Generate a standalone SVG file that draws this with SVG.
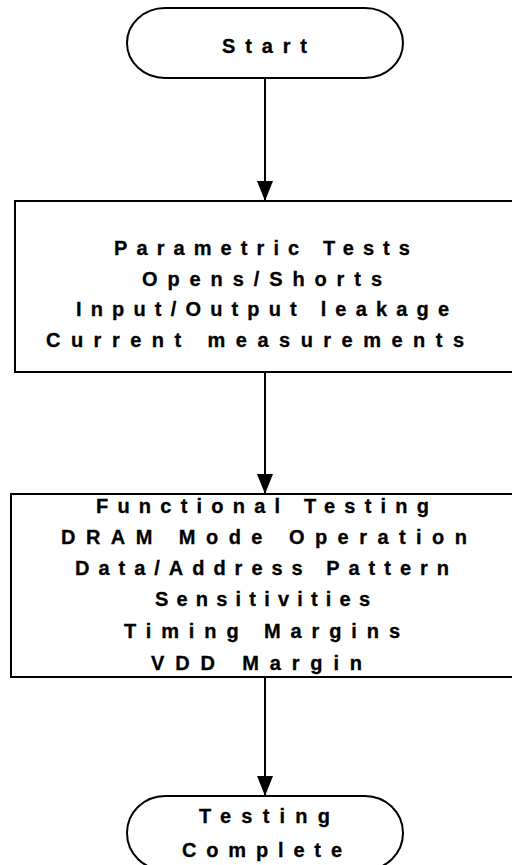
<svg xmlns="http://www.w3.org/2000/svg" width="512" height="865" viewBox="0 0 512 865">
<defs>
<style>
.shape{fill:#fff;stroke:#000;stroke-width:2}
.t{font-family:"Liberation Sans",Arial,sans-serif;font-weight:bold;font-size:20px;fill:#000;stroke:#000;stroke-width:0.3px}
.c{stroke:#000;stroke-width:2;fill:none}
</style>
<marker id="ah" markerUnits="userSpaceOnUse" markerWidth="20" markerHeight="16" refX="20" refY="8" orient="auto">
<path d="M0,0 L20,8 L0,16 Z" fill="#000"/>
</marker>
</defs>
<rect width="512" height="865" fill="#fff"/>
<g id="connectors">
<line class="c" x1="265" y1="78" x2="265" y2="201" marker-end="url(#ah)"/>
<line class="c" x1="265" y1="372" x2="265" y2="494" marker-end="url(#ah)"/>
<line class="c" x1="265" y1="677" x2="265" y2="796" marker-end="url(#ah)"/>
</g>
<g id="start">
<path class="shape" d="M165,8 H365 A38,35 0 0 1 365,78 H165 A38,35 0 0 1 165,8 Z"/>
<text class="t" x="222" y="53" textLength="85" lengthAdjust="spacing">Start</text>
</g>
<g id="parametric">
<rect class="shape" x="15" y="201" width="500" height="171"/>
<text class="t" x="114" y="255" textLength="296" lengthAdjust="spacing">Parametric Tests</text>
<text class="t" x="142" y="286" textLength="240" lengthAdjust="spacing">Opens/Shorts</text>
<text class="t" x="76" y="316" textLength="373" lengthAdjust="spacing">Input/Output leakage</text>
<text class="t" x="46" y="347" textLength="418" lengthAdjust="spacing">Current measurements</text>
</g>
<g id="functional">
<rect class="shape" x="11" y="494" width="508" height="183"/>
<text class="t" x="96" y="513" textLength="333" lengthAdjust="spacing">Functional Testing</text>
<text class="t" x="61" y="544" textLength="406" lengthAdjust="spacing">DRAM Mode Operation</text>
<text class="t" x="75" y="575" textLength="374" lengthAdjust="spacing">Data/Address Pattern</text>
<text class="t" x="155" y="606" textLength="215" lengthAdjust="spacing">Sensitivities</text>
<text class="t" x="124" y="638" textLength="276" lengthAdjust="spacing">Timing Margins</text>
<text class="t" x="151" y="670" textLength="211" lengthAdjust="spacing">VDD Margin</text>
</g>
<g id="end">
<path class="shape" d="M165,796 H365 A38,37 0 0 1 365,870 H165 A38,37 0 0 1 165,796 Z"/>
<text class="t" x="199" y="823" textLength="131" lengthAdjust="spacing">Testing</text>
<text class="t" x="182" y="857" textLength="160" lengthAdjust="spacing">Complete</text>
</g>
</svg>
